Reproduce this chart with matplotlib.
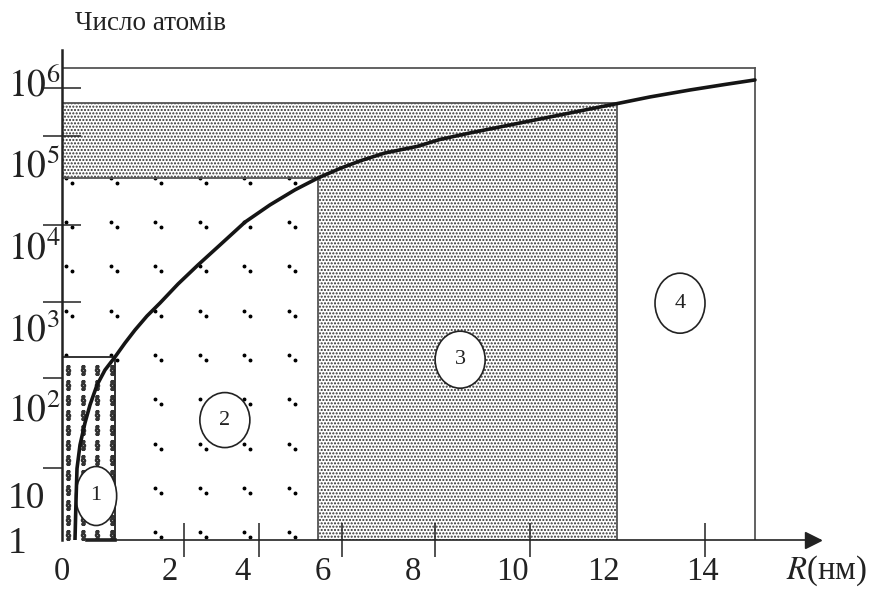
import numpy as np
import matplotlib.pyplot as plt
from matplotlib.patches import Ellipse
from matplotlib.ticker import FixedLocator, FixedFormatter, NullFormatter
from matplotlib.transforms import ScaledTranslation

plt.rcParams['font.family'] = ['Liberation Serif', 'DejaVu Serif']
plt.rcParams['mathtext.fontset'] = 'stix'
plt.rcParams['hatch.linewidth'] = 1.0

# number of atoms in a particle vs its radius
curve_r = [0.213, 0.230, 0.246, 0.295, 0.377, 0.459, 0.574, 0.705, 0.869, 1.033,
           1.197, 1.393, 1.607, 1.902, 2.373, 2.96, 3.627, 4.265, 4.867, 5.422,
           5.952, 6.387, 6.925, 7.613, 8.105, 8.737, 9.368, 10.0, 10.686, 11.371,
           12.011, 12.743, 13.657, 14.457, 15.143]
curve_n = [1, 7.7, 20, 37, 66, 106, 188, 290, 422, 631,
           917, 1360, 1960, 3340, 5700, 1.0e4, 1.9e4, 3.08e4, 4.7e4, 6.56e4,
           8.57e4, 1.059e5, 1.329e5, 1.598e5, 1.951e5, 2.347e5, 2.782e5, 3.30e5, 3.913e5, 4.642e5,
           5.43e5, 6.53e5, 7.96e5, 9.31e5, 1.059e6]

# regions 1-4: right edge (nm) and upper edge (atoms)
region_r = [0.87, 5.42, 12.0, 15.14]
region_n = [420, 6.6e4, 5.5e5, 1.5e6]
region_names = ['1', '2', '3', '4']
name_r = [0.56, 3.09, 8.53, 13.43]
name_n = [9.5, 71, 390, 1950]
name_size = [(0.41, 0.59), (0.50, 0.55), (0.50, 0.57), (0.50, 0.60)]

x_labels = ['0', '2', '4', '6', '8', '10', '12', '14']
x_label_pos = [0, 1.77, 3.55, 5.54, 7.53, 9.64, 11.67, 13.95]
x_tick_marks = [2, 4, 6, 8, 10, 14]
y_labels = ['1', '10', r'$10^2$', r'$10^3$', r'$10^4$', r'$10^5$', r'$10^6$']
y_label_pos = [1, 10, 1e2, 1e3, 1e4, 1e5, 1e6]
y_tick_marks = [10**1.307, 10**2.3625, 10**3.305, 10**4.244, 10**5.333, 10**5.926]

# hand-drawn axes: piecewise linear in R and in log10(N)
r_knots = [-2, 0, 2, 4, 6, 8, 10, 14, 18]
r_pos = [-59, 62, 184, 259, 342, 435, 530, 705, 880]
lg_knots = [-1, 0, 1, 2, 3, 4, 5, 6, 7]
lg_pos = [7, 52, 97, 185, 265, 347, 429, 510, 591]


def fwd_r(r):
    return np.interp(r, r_knots, r_pos)


def inv_r(p):
    return np.interp(p, r_pos, r_knots)


def fwd_n(n):
    return np.interp(np.log10(np.clip(n, 1e-3, None)), lg_knots, lg_pos)


def inv_n(p):
    return 10 ** np.interp(p, lg_pos, lg_knots)


fig = plt.figure(figsize=(8.82, 5.92), dpi=100)
ax = fig.add_axes([62 / 882, 52 / 592, 758 / 882, 490 / 592])
ax.set_xscale('function', functions=(fwd_r, inv_r))
ax.set_yscale('function', functions=(fwd_n, inv_n))
ax.set_xlim(0, 16.63)
ax.set_ylim(1, 2.48e6)

ink = '#222222'
edge = '#555555'

# stippled region (3 plus the band above region 2)
l_r = [0, 0, region_r[2], region_r[2], region_r[1], region_r[1]]
l_n = [region_n[1], region_n[2], region_n[2], 1, 1, region_n[1]]
ax.fill(l_r, l_n, facecolor='white', edgecolor='#303030', hatch='.....',
        lw=0, zorder=1)

# sparse dot pairs in region 2
to_disp = ax.transData.transform
to_data = ax.transData.inverted().transform
x0, y0 = to_disp((0, region_n[1]))
x1, y1 = to_disp((region_r[1], 1))
xr1 = to_disp((region_r[0], 1))[0]
yt1 = to_disp((0, region_n[0]))[1]
gx, gy = np.meshgrid(np.arange(x0 + 4, x1 - 10, 44.5),
                     np.arange(y0, y1 + 5, -44.3))
gx, gy = gx.ravel(), gy.ravel()
keep = ~((gx < xr1 + 3) & (gy < yt1 - 3))
gx, gy = gx[keep], gy[keep]
for dx, dy in [(0, 0), (6, -5)]:
    pts = to_data(np.column_stack([gx + dx, gy + dy]))
    ax.plot(pts[:, 0], pts[:, 1], 'o', ms=1.8, color='black', lw=0, zorder=1.5)

# region 1 with glyph fill
ax.fill([0, 0, region_r[0], region_r[0]], [1, region_n[0], region_n[0], 1],
        facecolor='white', lw=0, zorder=2)
gx, gy = np.meshgrid(np.arange(x0 + 6, xr1, 14.7), np.arange(yt1 - 13, y1 + 3, -15))
pts = to_data(np.column_stack([gx.ravel(), gy.ravel()]))
ax.plot(pts[:, 0], pts[:, 1], marker=r'$\S$', ms=7, color='#333333', lw=0, zorder=2.1)

# region outlines and frame
lw = 1.3
ax.plot([0, region_r[0]], [region_n[0]] * 2, color=ink, lw=lw, zorder=2.2)
ax.plot([region_r[0]] * 2, [1, region_n[0]], color=ink, lw=lw, zorder=2.2)
ax.plot([0.41, region_r[0]], [1, 1], color=ink, lw=2.6, zorder=2.2, clip_on=False)
ax.plot([0, region_r[1]], [region_n[1]] * 2, color=edge, lw=lw, zorder=2.2)
ax.plot([region_r[1]] * 2, [1, region_n[1]], color=edge, lw=lw, zorder=2.2)
ax.plot([0, region_r[2]], [region_n[2]] * 2, color=edge, lw=lw, zorder=2.2)
ax.plot([region_r[2]] * 2, [1, region_n[2]], color=edge, lw=lw, zorder=2.2)
ax.plot([0, region_r[3]], [region_n[3]] * 2, color=edge, lw=lw, zorder=2.2)
ax.plot([region_r[3]] * 2, [1, region_n[3]], color=edge, lw=lw, zorder=2.2)

# circled region numbers
for name, r, n, (w, h) in zip(region_names, name_r, name_n, name_size):
    tr = fig.dpi_scale_trans + ScaledTranslation(r, n, ax.transData)
    ax.add_patch(Ellipse((0, 0), w, h, transform=tr, facecolor='white',
                         edgecolor=ink, lw=1.2, zorder=3))
    ax.text(r, n, name, fontsize=16, color=ink, ha='center', va='center', zorder=3.1)

ax.plot(curve_r, curve_n, color='#151515', lw=2.6, zorder=4,
        solid_capstyle='round', solid_joinstyle='round')

# axes
for side in ['top', 'right']:
    ax.spines[side].set_visible(False)
ax.spines['left'].set_linewidth(1.8)
ax.spines['left'].set_color(ink)
ax.spines['bottom'].set_linewidth(1.2)
ax.spines['bottom'].set_color(ink)
ax.spines['bottom'].set_bounds(0.41, 16.63)
ax.plot([1 - 0.009], [0], marker='>', ms=11, color=ink, transform=ax.transAxes,
        clip_on=False, zorder=5)

ax.xaxis.set_major_locator(FixedLocator(x_label_pos))
ax.xaxis.set_major_formatter(FixedFormatter(x_labels))
ax.xaxis.set_minor_locator(FixedLocator(x_tick_marks))
ax.xaxis.set_minor_formatter(NullFormatter())
ax.yaxis.set_major_locator(FixedLocator(y_label_pos))
ax.yaxis.set_major_formatter(FixedFormatter(y_labels))
ax.yaxis.set_minor_locator(FixedLocator(y_tick_marks))
ax.yaxis.set_minor_formatter(NullFormatter())

ax.tick_params(axis='x', which='major', length=0, pad=12, labelsize=23.5, colors=ink)
ax.tick_params(axis='y', which='major', length=0, pad=39, labelsize=27, colors=ink)
ax.tick_params(axis='x', which='minor', direction='inout', length=24, width=1.1, color=ink)
ax.tick_params(axis='y', which='minor', direction='inout', length=28, width=1.1, color=ink)
for lab in ax.get_yticklabels():
    lab.set_horizontalalignment('left')

ax.set_xlabel(r'$R$(нм)', fontsize=23.5, color=ink, va='center')
ax.xaxis.set_label_coords(1.008, -0.063)
ax.set_ylabel('Число атомів', fontsize=19.5, color=ink, rotation=0, ha='left', va='center')
ax.yaxis.set_label_coords(0.017, 1.055)

fig.savefig('out.png', dpi=100)
